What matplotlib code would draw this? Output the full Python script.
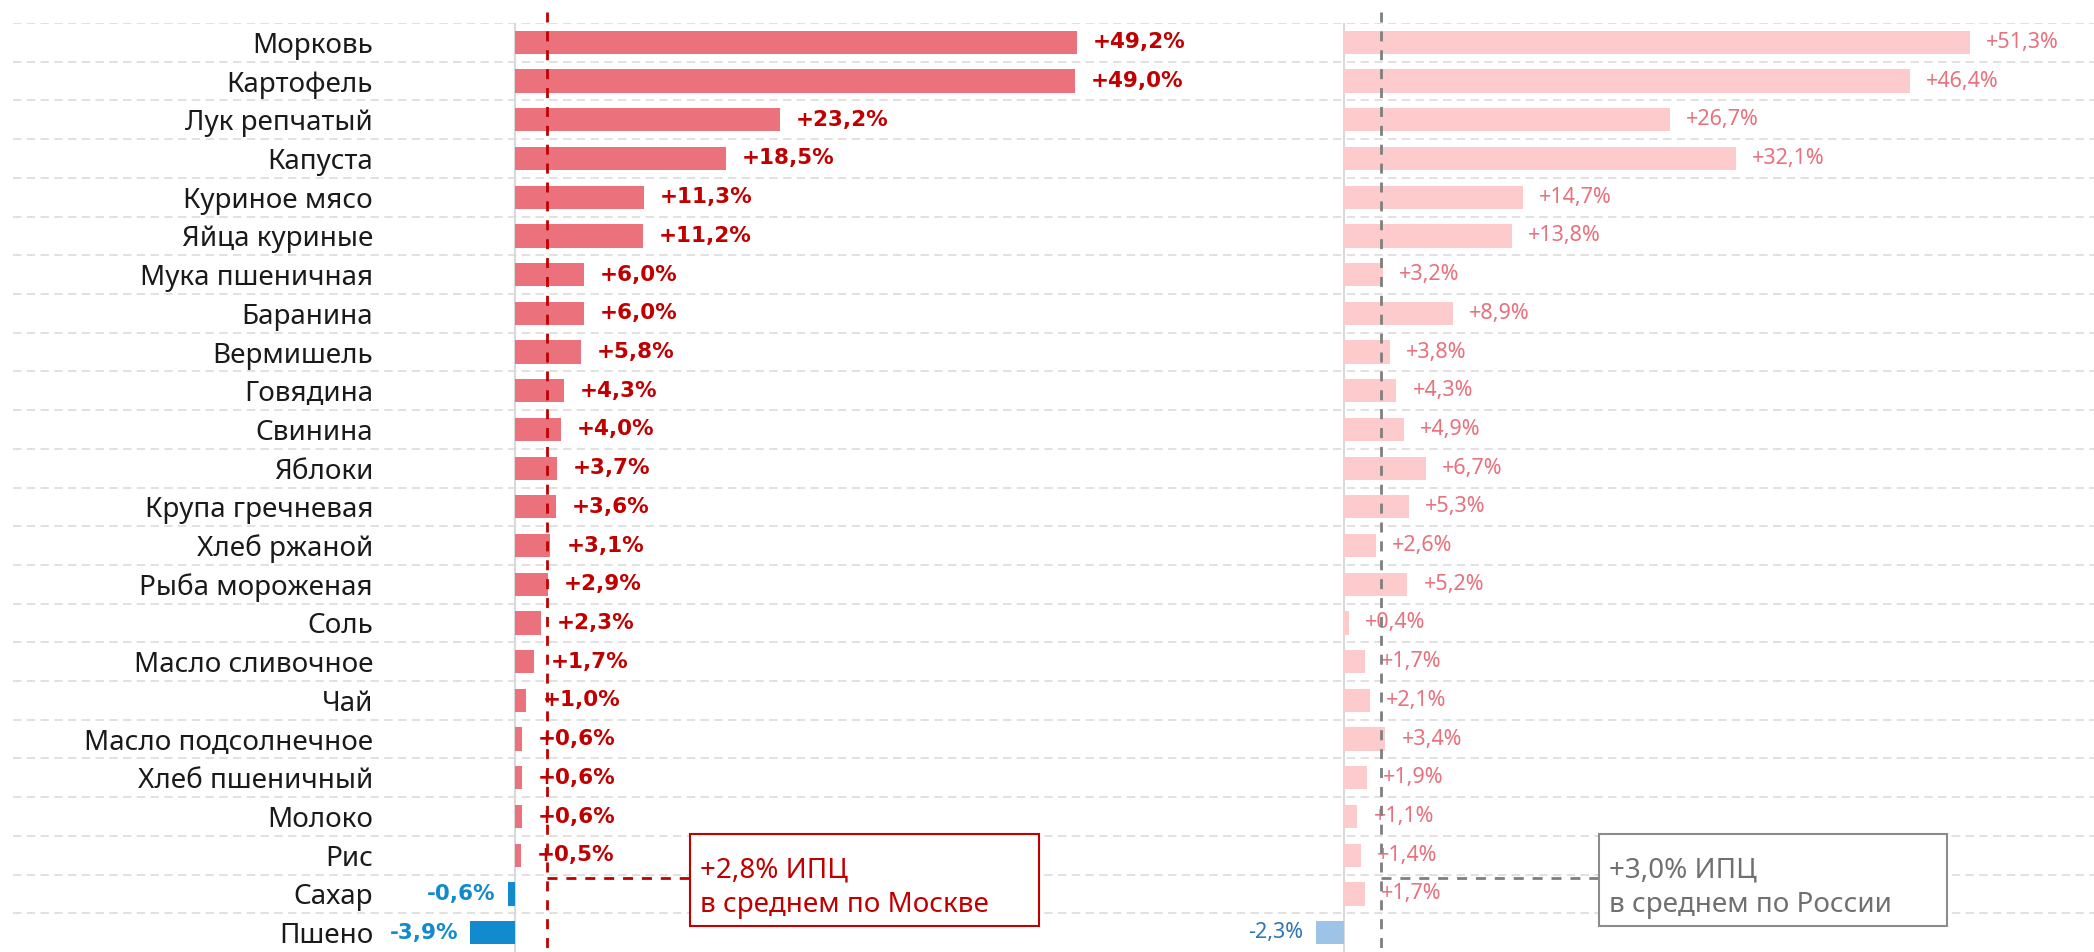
import matplotlib.pyplot as plt
from matplotlib.patches import Rectangle

plt.rcParams['font.family'] = ['Noto Sans', 'DejaVu Sans']

categories = ['Морковь', 'Картофель', 'Лук репчатый', 'Капуста', 'Куриное мясо',
              'Яйца куриные', 'Мука пшеничная', 'Баранина', 'Вермишель', 'Говядина',
              'Свинина', 'Яблоки', 'Крупа гречневая', 'Хлеб ржаной', 'Рыба мороженая',
              'Соль', 'Масло сливочное', 'Чай', 'Масло подсолнечное', 'Хлеб пшеничный',
              'Молоко', 'Рис', 'Сахар', 'Пшено']
moscow = [49.2, 49.0, 23.2, 18.5, 11.3, 11.2, 6.0, 6.0, 5.8, 4.3, 4.0, 3.7, 3.6,
          3.1, 2.9, 2.3, 1.7, 1.0, 0.6, 0.6, 0.6, 0.5, -0.6, -3.9]
russia = [51.3, 46.4, 26.7, 32.1, 14.7, 13.8, 3.2, 8.9, 3.8, 4.3, 4.9, 6.7, 5.3,
          2.6, 5.2, 0.4, 1.7, 2.1, 3.4, 1.9, 1.1, 1.4, 1.7, -2.3]
cpi_moscow = 2.8
cpi_russia = 3.0
cpi_text_moscow = ['+2,8% ИПЦ', 'в среднем по Москве']
cpi_text_russia = ['+3,0% ИПЦ', 'в среднем по России']

W, H = 2094, 952
TOP = 23
n = len(categories)
rows = list(range(n))

fig = plt.figure(figsize=(W / 100, H / 100), dpi=100)
hfrac = (H - TOP) / H

# background grid spanning whole width
ax_bg = fig.add_axes([0, 0, 1, hfrac])
ax_bg.set_xlim(0, 1)
ax_bg.set_ylim(n - 0.5, -0.5)
ax_bg.axis('off')
for k in range(n):
    ax_bg.axhline(k - 0.5, xmin=13 / W, xmax=1, color='#D9D9D9', lw=1.1,
                  ls=(0, (5.5, 3.5)), zorder=0)

ax_l = fig.add_axes([380 / W, 0, (1230 - 380) / W, hfrac])
ax_r = fig.add_axes([1250 / W, 0, (2094 - 1250) / W, hfrac])
ax_l.set_xlim(-(515 - 380) / 11.42, (1230 - 515) / 11.42)
ax_r.set_xlim(-(1344 - 1250) / 12.2, (2094 - 1344) / 12.2)


def fmt(v):
    s = f'{abs(v):.1f}'.replace('.', ',')
    return ('+' if v >= 0 else '-') + s + '%'


def panel(ax, values, bar_pos, bar_neg, lab_pos, lab_neg, lab_font, cpi,
          line_color, box_x, box_edge, box_text, text_color):
    ax.set_facecolor('none')
    for s in ax.spines.values():
        s.set_visible(False)
    ax.set_ylim(n - 0.5, -0.5)
    ax.set_xticks([])
    ax.axvline(0, color='#D9D9D9', lw=1.5, zorder=1)
    colors = [bar_pos if v >= 0 else bar_neg for v in values]
    ax.barh(rows, values, height=0.6, color=colors, zorder=2)
    for i, v in zip(rows, values):
        if v >= 0:
            ax.annotate(fmt(v), (v, i), xytext=(11.5, 0), textcoords='offset points',
                        ha='left', va='center', color=lab_pos, zorder=3, **lab_font)
        else:
            ax.annotate(fmt(v), (v, i), xytext=(-9, 0), textcoords='offset points',
                        ha='right', va='center', color=lab_neg, zorder=3, **lab_font)
    dash = (0, (3.6, 3.2))
    ax.plot([cpi, cpi], [-0.78, n - 0.5], color=line_color, lw=2, ls=dash,
            clip_on=False, zorder=4)
    ax.plot([cpi, box_x[0]], [21.6, 21.6], color=line_color, lw=2, ls=dash,
            clip_on=False, zorder=4)
    ax.add_patch(Rectangle((box_x[0], 20.45), box_x[1] - box_x[0], 2.37,
                           facecolor='white', edgecolor=box_edge, lw=1.5,
                           clip_on=False, zorder=5))
    tx = box_x[0] + (box_x[1] - box_x[0]) * 0.03
    ax.text(tx, 21.4, box_text[0], ha='left', va='center', fontsize=20,
            color=text_color, zorder=6)
    ax.text(tx, 22.28, box_text[1], ha='left', va='center', fontsize=20,
            color=text_color, zorder=6)


bold_font = dict(family=['DejaVu Sans'], fontsize=15.5, fontweight='bold')
plain_font = dict(fontsize=15.5)

panel(ax_l, moscow, '#EB717D', '#118ACE', '#C00000', '#118ACE', bold_font,
      cpi_moscow, '#C00000', (15.3, 45.9), '#C00000', cpi_text_moscow, '#C00000')
panel(ax_r, russia, '#FDCBCB', '#9DC3E6', '#E8717D', '#2E75B6', plain_font,
      cpi_russia, '#7F7F7F', (20.9, 49.4), '#8C8C8C', cpi_text_russia, '#707070')

ax_l.set_yticks(rows)
ax_l.set_yticklabels(categories, fontsize=20, color='#1A1A1A')
ax_l.tick_params(axis='y', length=0, pad=5)
ax_r.set_yticks([])

fig.savefig('out.png', dpi=100)
